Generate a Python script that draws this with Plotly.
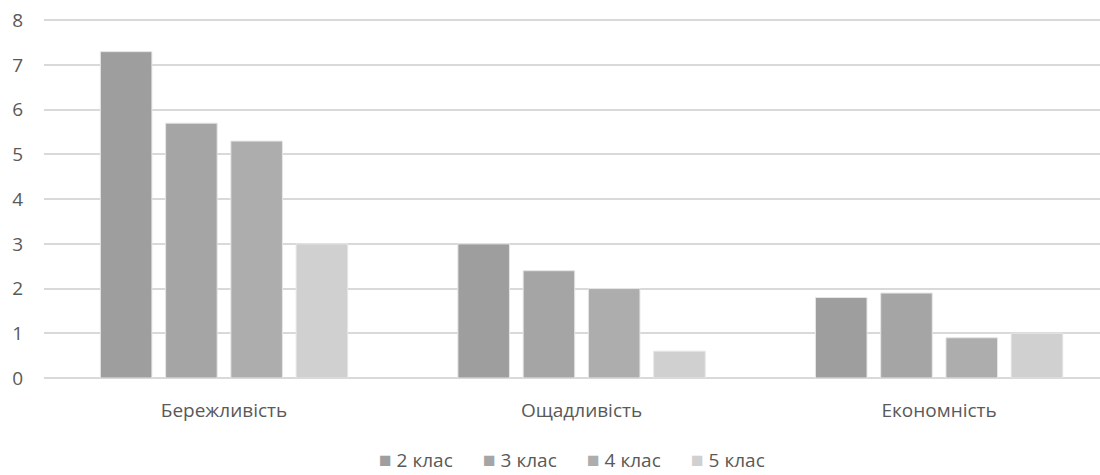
import plotly.graph_objects as go

categories = ["Бережливість", "Ощадливість", "Економність"]
series_names = ["2 клас", "3 клас", "4 клас", "5 клас"]
values_2 = [7.3, 3.0, 1.8]
values_3 = [5.7, 2.4, 1.9]
values_4 = [5.3, 2.0, 0.9]
values_5 = [3.0, 0.6, 1.0]
colors = ["#9e9e9e", "#a5a5a5", "#adadad", "#d0d0d0"]
y_ticks = [0, 1, 2, 3, 4, 5, 6, 7, 8]

L, T, B, W, H = 44, 19, 97, 1100, 475
PW, PH = W - L, H - T - B

fig = go.Figure()
for name, vals, col in zip(series_names, [values_2, values_3, values_4, values_5], colors):
    fig.add_trace(go.Bar(
        x=categories, y=vals, name=name,
        marker=dict(color=col, line=dict(color="#e6e6e6", width=1)),
    ))

# legend drawn as text items (Excel-like compact legend)
legend_x = [377, 481, 585, 689]
for name, col, px in zip(series_names, colors, legend_x):
    fig.add_annotation(
        xref="paper", yref="paper", x=(px - L) / PW, y=(H - B - 459) / PH,
        xanchor="left", yanchor="middle", showarrow=False,
        text=f"<span style='color:{col};font-size:21px'>■</span> {name}",
        font=dict(family="Open Sans", size=19, color="#595959"),
    )

fig.update_layout(
    width=W, height=H,
    margin=dict(l=L, r=0, t=T, b=B, autoexpand=False),
    paper_bgcolor="white", plot_bgcolor="white",
    barmode="group", bargap=0.27, bargroupgap=0.21,
    font=dict(family="Open Sans", size=19, color="#595959"),
    showlegend=False,
    xaxis=dict(range=[-0.5035, 2.45], showgrid=False, showline=False, zeroline=False,
               ticks="", ticklabelstandoff=19, tickfont=dict(size=19, color="#595959")),
    yaxis=dict(range=[0, 8.03], tickvals=y_ticks, showgrid=True, gridcolor="#d9d9d9", gridwidth=1.5,
               zeroline=True, zerolinecolor="#d9d9d9", zerolinewidth=1.5, showline=False,
               ticks="", ticklabelstandoff=20, tickfont=dict(size=19, color="#595959")),
)

fig.write_html("out.html", config={"displayModeBar": False},
               post_script="document.body.style.margin='0';document.body.style.overflow='hidden';")
